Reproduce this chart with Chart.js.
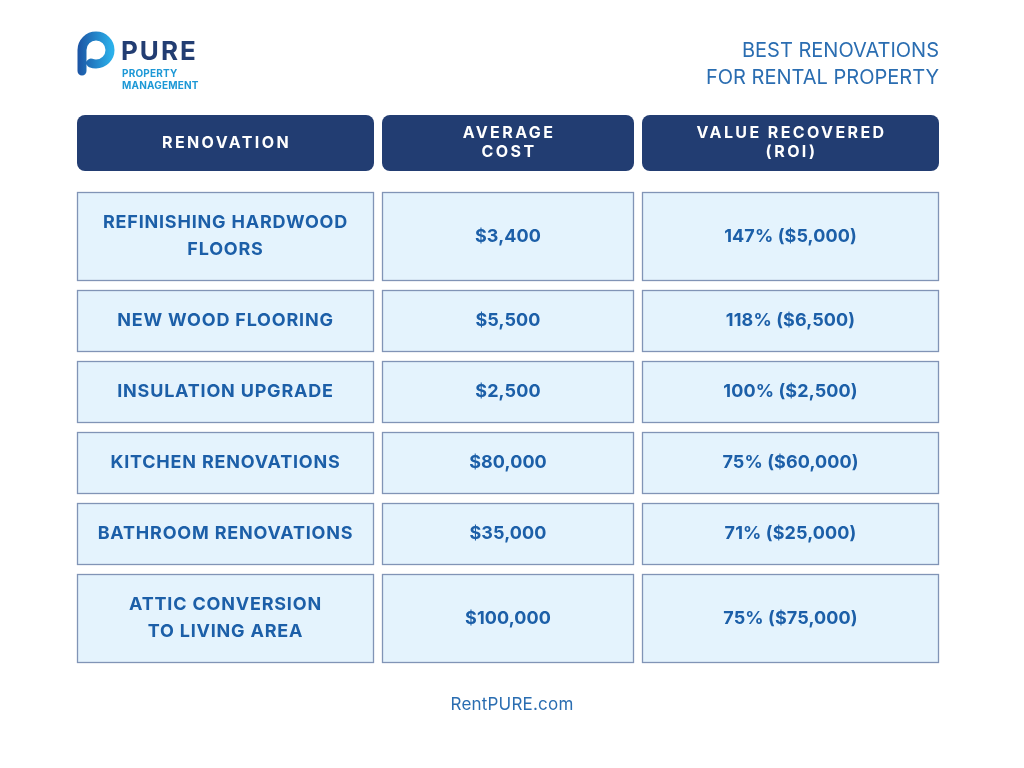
<!DOCTYPE html>
<html>
<head>
  <title>Best Renovations for Rental Property</title>
  <script src="https://cdn.jsdelivr.net/npm/chart.js@4.4.1/dist/chart.umd.min.js"></script>
  <style>
    body { margin: 0; background: #ffffff; }
    canvas { display: block; }
  </style>
</head>
<body>
  <canvas id="roiTable" width="1024" height="768"></canvas>

  <script>
    // table content
    const headers = [['RENOVATION'], ['AVERAGE', 'COST'], ['VALUE RECOVERED', '(ROI)']];
    const renovations = [
      ['REFINISHING HARDWOOD', 'FLOORS'],
      ['NEW WOOD FLOORING'],
      ['INSULATION UPGRADE'],
      ['KITCHEN RENOVATIONS'],
      ['BATHROOM RENOVATIONS'],
      ['ATTIC CONVERSION', 'TO LIVING AREA']
    ];
    const averageCost = [3400, 5500, 2500, 80000, 35000, 100000];
    const roiPercent = [147, 118, 100, 75, 71, 75];
    const valueRecovered = [5000, 6500, 2500, 60000, 25000, 75000];

    const titleLines = ['BEST RENOVATIONS', 'FOR RENTAL PROPERTY'];
    const footerText = 'RentPURE.com';

    // layout (table units)
    const colWidths = [297, 252, 297];
    const colGap = 8;
    const headerH = 56;
    const headerGap = 21;
    const rowGap = 9;
    const lineH = 27;

    const money = v => '$' + v.toLocaleString('en-US');
    const cells = renovations.map((name, i) => [
      name,
      [money(averageCost[i])],
      [roiPercent[i] + '% (' + money(valueRecovered[i]) + ')']
    ]);

    // column extents in x units
    const colEdges = [];
    let cx = 0;
    colWidths.forEach(w => { colEdges.push([cx, cx + w]); cx += w + colGap; });
    const totalW = cx - colGap;

    // row extents in y units (height follows number of text lines)
    const rowEdges = [];
    let cy = headerH + headerGap;
    cells.forEach(r => {
      const lines = Math.max(...r.map(c => c.length));
      const h = 35 + lineH * lines;
      rowEdges.push([cy, cy + h]);
      cy += h + rowGap;
    });
    const totalH = cy - rowGap;

    const FONT = 'Inter, "Open Sans", sans-serif';
    const textBlue = '#1c5fa8';
    const navy = '#223d72';

    function drawLines(ctx, lines, xc, yc, step) {
      const start = yc - (lines.length - 1) * step / 2;
      lines.forEach((t, k) => ctx.fillText(t, xc, start + k * step));
    }

    function drawLogo(ctx) {
      const g = ctx.createLinearGradient(76, 0, 112, 0);
      g.addColorStop(0, '#1b4fa0');
      g.addColorStop(1, '#2bb0ea');
      ctx.save();
      ctx.strokeStyle = g;
      ctx.lineWidth = 9;
      ctx.lineCap = 'round';
      ctx.beginPath();
      ctx.moveTo(82, 71);
      ctx.lineTo(82, 50);
      ctx.arc(96, 50, 14, Math.PI, Math.PI * 0.62, false);
      ctx.stroke();
      ctx.restore();

      ctx.save();
      ctx.textAlign = 'left';
      ctx.textBaseline = 'alphabetic';
      ctx.fillStyle = navy;
      ctx.font = '700 26px ' + FONT;
      ctx.letterSpacing = '2px';
      ctx.fillText('PURE', 121, 60);
      ctx.fillStyle = '#1d98d6';
      ctx.font = '700 10px ' + FONT;
      ctx.letterSpacing = '0.2px';
      ctx.fillText('PROPERTY', 122, 77);
      ctx.fillText('MANAGEMENT', 122, 89);
      ctx.restore();
    }

    const tablePlugin = {
      id: 'tablePlugin',
      afterDraw(chart) {
        const { ctx, scales: { x, y } } = chart;
        const px = v => Math.round(x.getPixelForValue(v));
        const py = v => Math.round(y.getPixelForValue(v));

        // header boxes
        ctx.save();
        colEdges.forEach((e, c) => {
          const x0 = px(e[0]), x1 = px(e[1]);
          const y0 = py(0), y1 = py(headerH);
          ctx.fillStyle = navy;
          ctx.beginPath();
          ctx.roundRect(x0, y0, x1 - x0, y1 - y0, 8);
          ctx.fill();
          ctx.fillStyle = '#ffffff';
          ctx.font = '700 16px ' + FONT;
          ctx.letterSpacing = '2.4px';
          ctx.textAlign = 'center';
          ctx.textBaseline = 'middle';
          drawLines(ctx, headers[c], (x0 + x1) / 2 + 1, (y0 + y1) / 2, 19);
        });
        ctx.restore();

        // body cells
        ctx.save();
        cells.forEach((row, r) => {
          row.forEach((lines, c) => {
            const x0 = px(colEdges[c][0]), x1 = px(colEdges[c][1]);
            const y0 = py(rowEdges[r][0]), y1 = py(rowEdges[r][1]);
            ctx.fillStyle = '#e4f3fd';
            ctx.fillRect(x0, y0, x1 - x0, y1 - y0);
            ctx.strokeStyle = '#8194b6';
            ctx.lineWidth = 1.3;
            ctx.strokeRect(x0 + 0.5, y0 + 0.5, x1 - x0 - 1, y1 - y0 - 1);
            ctx.fillStyle = textBlue;
            ctx.font = '700 18px ' + FONT;
            ctx.letterSpacing = c === 0 ? '0.8px' : '0.1px';
            ctx.textAlign = 'center';
            ctx.textBaseline = 'middle';
            drawLines(ctx, lines, (x0 + x1) / 2, (y0 + y1) / 2, lineH);
          });
        });
        ctx.restore();

        // title, logo, footer
        ctx.save();
        ctx.fillStyle = '#2a6db1';
        ctx.font = '400 20px ' + FONT;
        ctx.letterSpacing = '0px';
        ctx.textAlign = 'right';
        ctx.textBaseline = 'middle';
        titleLines.forEach((t, k) => ctx.fillText(t, px(totalW), 51 + k * 27));
        ctx.textAlign = 'center';
        ctx.font = '400 17px ' + FONT;
        ctx.letterSpacing = '0.2px';
        ctx.fillText(footerText, chart.width / 2, 705);
        ctx.restore();

        drawLogo(ctx);
      }
    };

    new Chart(document.getElementById('roiTable'), {
      type: 'scatter',
      data: { datasets: [{ data: [], pointRadius: 0 }] },
      options: {
        responsive: false,
        animation: false,
        layout: { padding: { left: 77, right: 85, top: 115, bottom: 768 - 115 - totalH } },
        plugins: { legend: { display: false }, tooltip: { enabled: false } },
        scales: {
          x: { type: 'linear', min: 0, max: totalW, display: false },
          y: { type: 'linear', min: 0, max: totalH, reverse: true, display: false }
        }
      },
      plugins: [tablePlugin]
    });
  </script>
</body>
</html>
